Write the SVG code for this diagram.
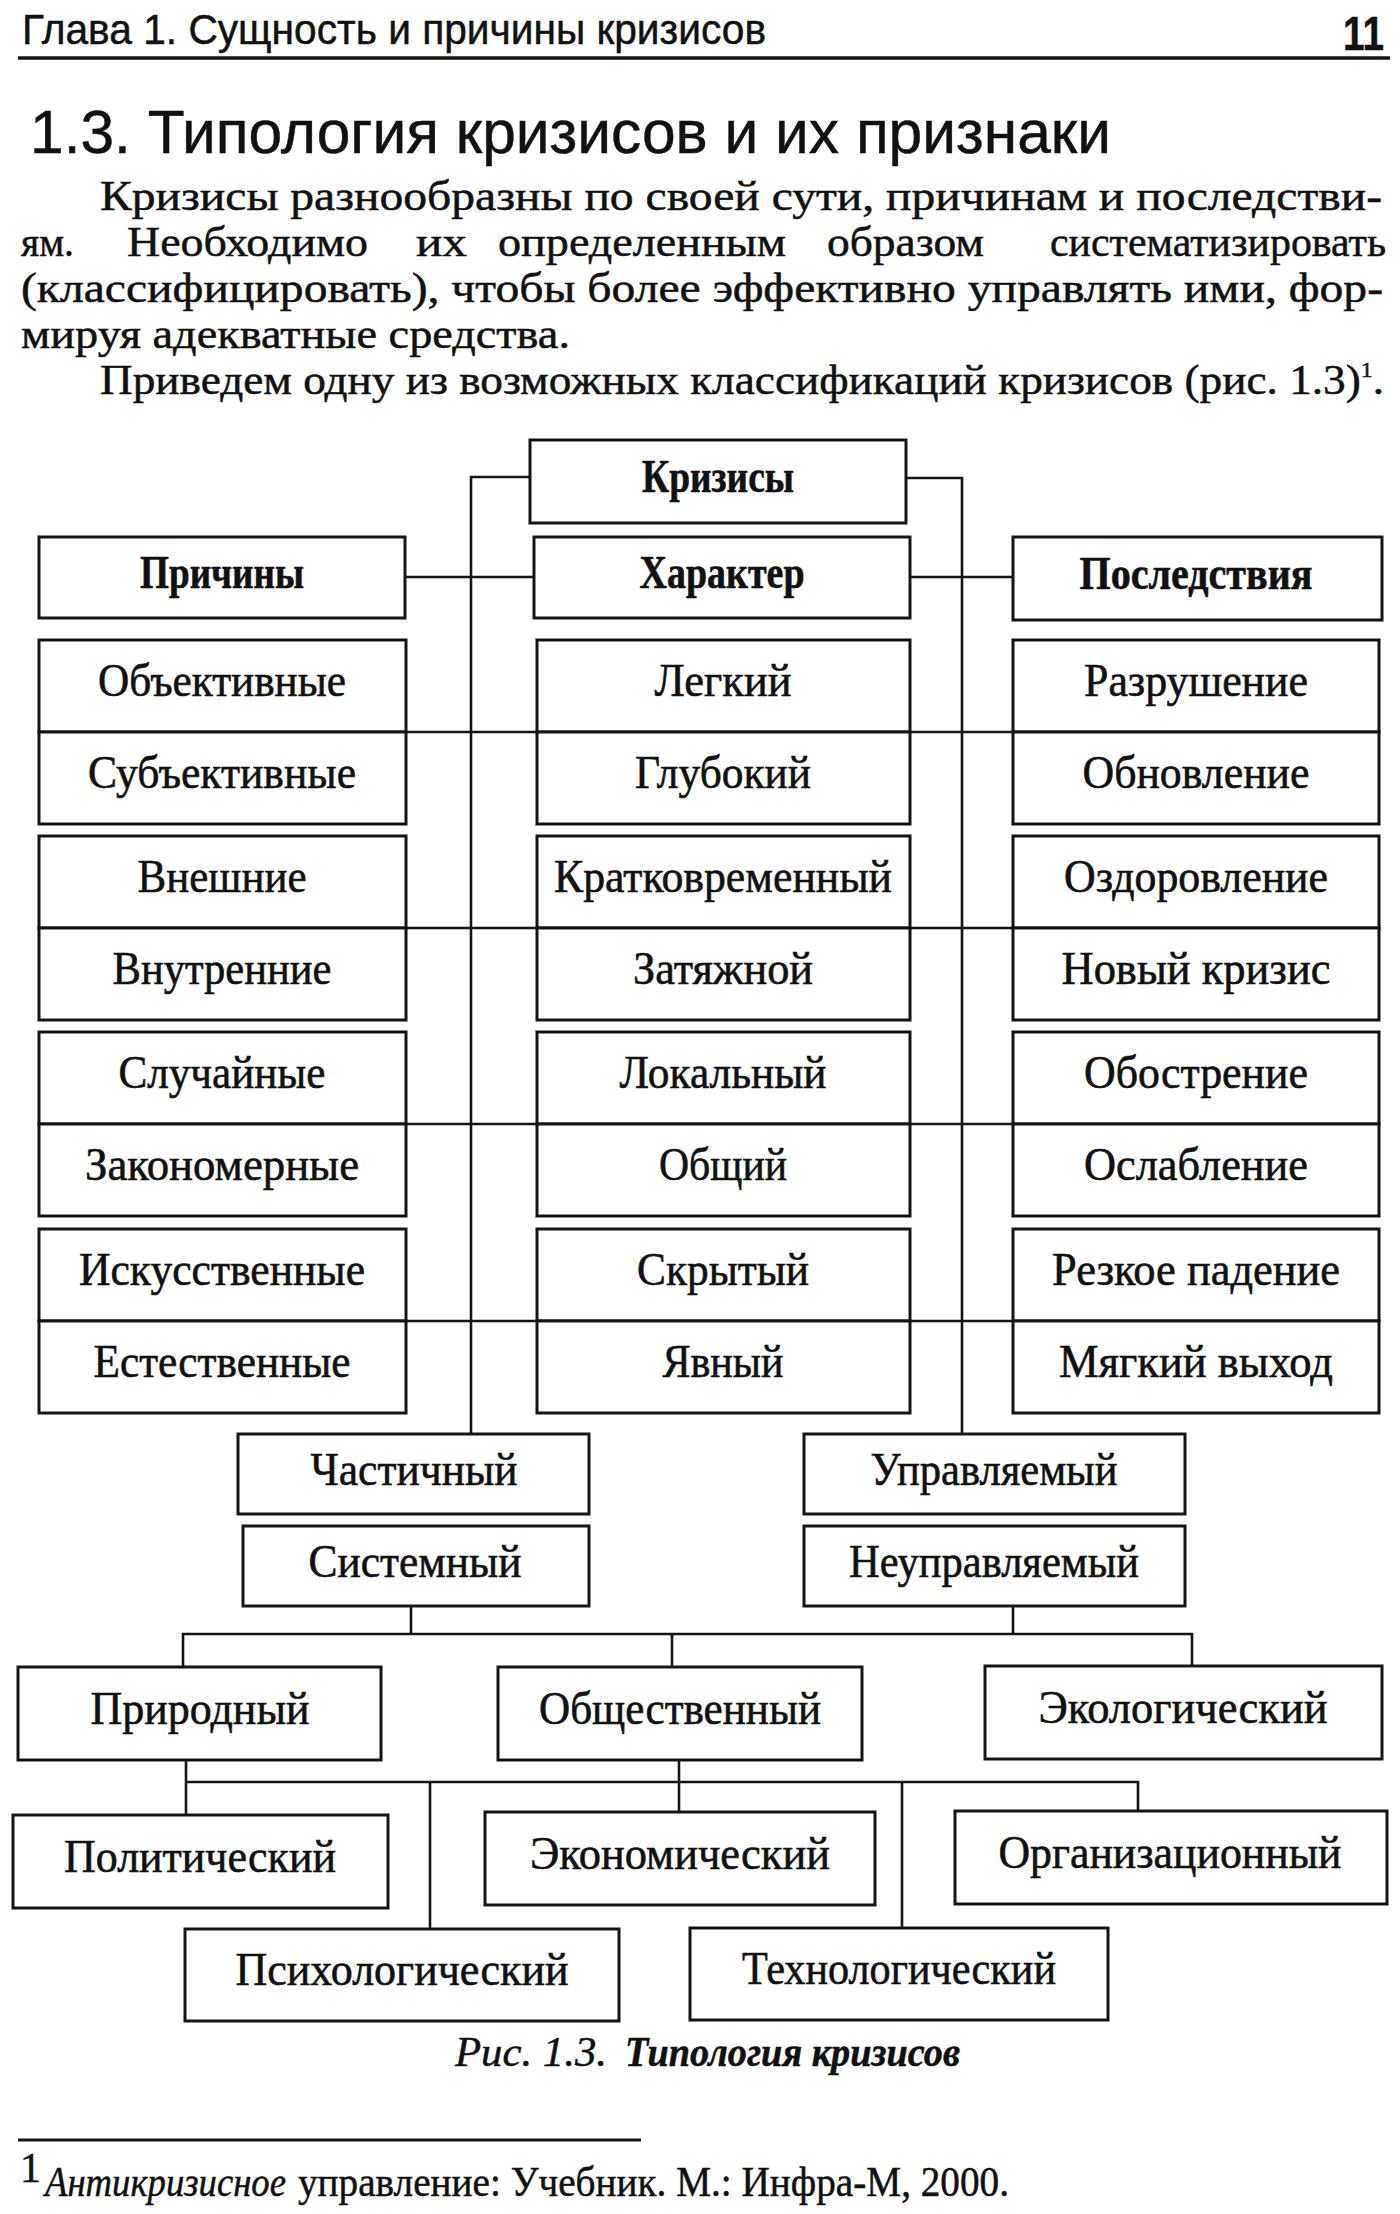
<svg xmlns="http://www.w3.org/2000/svg" width="1400" height="2214" viewBox="0 0 1400 2214">
<style>
.box{fill:#fff;stroke:#141414;stroke-width:3}
.ln{stroke:#141414;stroke-width:2.6;fill:none}
.lb{font-family:"Liberation Serif","Times New Roman",serif;font-size:46px;fill:#111;stroke:#111;stroke-width:0.6;text-anchor:middle}
.bd{font-weight:bold}
.pr{font-family:"Liberation Serif","Times New Roman",serif;font-size:42px;fill:#111;stroke:#111;stroke-width:0.5}
.hd{font-family:"Liberation Sans",Arial,sans-serif;fill:#111;stroke:#111;stroke-width:0.5}
</style>
<rect width="1400" height="2214" fill="#fff"/>
<g id="page-header">
<text class="hd" x="22" y="44" font-size="43" textLength="744" lengthAdjust="spacingAndGlyphs">Глава 1. Сущность и причины кризисов</text>
<text class="hd" x="1343" y="50" font-size="48" font-weight="bold" textLength="41" lengthAdjust="spacingAndGlyphs">11</text>
<line x1="18" y1="58" x2="1390" y2="58" stroke="#141414" stroke-width="3.5"/>
<text class="hd" x="30" y="153" font-size="62" textLength="1081" lengthAdjust="spacingAndGlyphs">1.3. Типология кризисов и их признаки</text>
</g>
<g id="paragraph">
<text class="pr" x="100" y="210" textLength="1282" lengthAdjust="spacingAndGlyphs">Кризисы разнообразны по своей сути, причинам и последстви-</text>
<text class="pr" y="256"><tspan x="21" textLength="53" lengthAdjust="spacingAndGlyphs">ям.</tspan><tspan x="127" textLength="241" lengthAdjust="spacingAndGlyphs">Необходимо</tspan><tspan x="416" textLength="51" lengthAdjust="spacingAndGlyphs">их</tspan><tspan x="498" textLength="288" lengthAdjust="spacingAndGlyphs">определенным</tspan><tspan x="827" textLength="157" lengthAdjust="spacingAndGlyphs">образом</tspan><tspan x="1050" textLength="336" lengthAdjust="spacingAndGlyphs">систематизировать</tspan></text>
<text class="pr" x="21" y="302" textLength="1362" lengthAdjust="spacingAndGlyphs">(классифицировать), чтобы более эффективно управлять ими, фор-</text>
<text class="pr" x="21" y="348" textLength="549" lengthAdjust="spacingAndGlyphs">мируя адекватные средства.</text>
<text class="pr" x="100" y="394" textLength="1284" lengthAdjust="spacingAndGlyphs">Приведем одну из возможных классификаций кризисов (рис. 1.3)<tspan dy="-17" font-size="22">1</tspan><tspan dy="17">.</tspan></text>
</g>
<g id="connectors">
<polyline class="ln" points="530,477 471,477 471,1434"/>
<polyline class="ln" points="906,478 962,478 962,1434"/>
<line class="ln" x1="405" y1="577" x2="534" y2="577"/>
<line class="ln" x1="910" y1="577" x2="1013" y2="577"/>
<line class="ln" x1="406" y1="732" x2="537" y2="732"/><line class="ln" x1="910" y1="732" x2="1013" y2="732"/>
<line class="ln" x1="406" y1="928" x2="537" y2="928"/><line class="ln" x1="910" y1="928" x2="1013" y2="928"/>
<line class="ln" x1="406" y1="1124" x2="537" y2="1124"/><line class="ln" x1="910" y1="1124" x2="1013" y2="1124"/>
<line class="ln" x1="406" y1="1321" x2="537" y2="1321"/><line class="ln" x1="910" y1="1321" x2="1013" y2="1321"/>
<line class="ln" x1="411" y1="1606" x2="411" y2="1634"/>
<line class="ln" x1="1013" y1="1606" x2="1013" y2="1634"/>
<polyline class="ln" points="183,1667 183,1634 1192,1634 1192,1667"/>
<line class="ln" x1="672" y1="1634" x2="672" y2="1667"/>
<line class="ln" x1="186" y1="1760" x2="186" y2="1815"/>
<line class="ln" x1="679" y1="1760" x2="679" y2="1812"/>
<polyline class="ln" points="186,1782 1138,1782 1138,1811"/>
<line class="ln" x1="430" y1="1782" x2="430" y2="1929"/>
<line class="ln" x1="902" y1="1782" x2="902" y2="1928"/>
</g>
<g id="n-krizisy"><rect class="box" x="530" y="440" width="376" height="83"/><text class="lb bd" x="718" y="492" textLength="152" lengthAdjust="spacingAndGlyphs">Кризисы</text></g>
<g id="n-prichiny"><rect class="box" x="39" y="537" width="366" height="81"/><text class="lb bd" x="222" y="588" textLength="164" lengthAdjust="spacingAndGlyphs">Причины</text></g>
<g id="n-harakter"><rect class="box" x="534" y="537" width="376" height="81"/><text class="lb bd" x="722" y="588" textLength="165" lengthAdjust="spacingAndGlyphs">Характер</text></g>
<g id="n-posledstviya"><rect class="box" x="1013" y="537" width="369" height="83"/><text class="lb bd" x="1196" y="589" textLength="233" lengthAdjust="spacingAndGlyphs">Последствия</text></g>
<g id="n-obyektivnye"><rect class="box" x="39" y="640" width="367" height="92"/><text class="lb" x="222" y="696" textLength="248" lengthAdjust="spacingAndGlyphs">Объективные</text></g>
<g id="n-subyektivnye"><rect class="box" x="39" y="732" width="367" height="92"/><text class="lb" x="222" y="788" textLength="268" lengthAdjust="spacingAndGlyphs">Субъективные</text></g>
<g id="n-vneshnie"><rect class="box" x="39" y="836" width="367" height="92"/><text class="lb" x="222" y="892" textLength="169" lengthAdjust="spacingAndGlyphs">Внешние</text></g>
<g id="n-vnutrennie"><rect class="box" x="39" y="928" width="367" height="92"/><text class="lb" x="222" y="984" textLength="219" lengthAdjust="spacingAndGlyphs">Внутренние</text></g>
<g id="n-sluchainye"><rect class="box" x="39" y="1032" width="367" height="92"/><text class="lb" x="222" y="1088" textLength="207" lengthAdjust="spacingAndGlyphs">Случайные</text></g>
<g id="n-zakonomernye"><rect class="box" x="39" y="1124" width="367" height="92"/><text class="lb" x="222" y="1180" textLength="274" lengthAdjust="spacingAndGlyphs">Закономерные</text></g>
<g id="n-iskusstvennye"><rect class="box" x="39" y="1229" width="367" height="92"/><text class="lb" x="222" y="1285" textLength="286" lengthAdjust="spacingAndGlyphs">Искусственные</text></g>
<g id="n-estestvennye"><rect class="box" x="39" y="1321" width="367" height="92"/><text class="lb" x="222" y="1377" textLength="257" lengthAdjust="spacingAndGlyphs">Естественные</text></g>
<g id="n-legkiy"><rect class="box" x="537" y="640" width="373" height="92"/><text class="lb" x="723" y="696" textLength="137" lengthAdjust="spacingAndGlyphs">Легкий</text></g>
<g id="n-glubokiy"><rect class="box" x="537" y="732" width="373" height="92"/><text class="lb" x="723" y="788" textLength="176" lengthAdjust="spacingAndGlyphs">Глубокий</text></g>
<g id="n-kratkovremenny"><rect class="box" x="537" y="836" width="373" height="92"/><text class="lb" x="723" y="892" textLength="338" lengthAdjust="spacingAndGlyphs">Кратковременный</text></g>
<g id="n-zatyazhnoy"><rect class="box" x="537" y="928" width="373" height="92"/><text class="lb" x="723" y="984" textLength="180" lengthAdjust="spacingAndGlyphs">Затяжной</text></g>
<g id="n-lokalny"><rect class="box" x="537" y="1032" width="373" height="92"/><text class="lb" x="723" y="1088" textLength="207" lengthAdjust="spacingAndGlyphs">Локальный</text></g>
<g id="n-obshchiy"><rect class="box" x="537" y="1124" width="373" height="92"/><text class="lb" x="723" y="1180" textLength="128" lengthAdjust="spacingAndGlyphs">Общий</text></g>
<g id="n-skryty"><rect class="box" x="537" y="1229" width="373" height="92"/><text class="lb" x="723" y="1285" textLength="172" lengthAdjust="spacingAndGlyphs">Скрытый</text></g>
<g id="n-yavny"><rect class="box" x="537" y="1321" width="373" height="92"/><text class="lb" x="723" y="1377" textLength="121" lengthAdjust="spacingAndGlyphs">Явный</text></g>
<g id="n-razrushenie"><rect class="box" x="1013" y="640" width="366" height="92"/><text class="lb" x="1196" y="696" textLength="224" lengthAdjust="spacingAndGlyphs">Разрушение</text></g>
<g id="n-obnovlenie"><rect class="box" x="1013" y="732" width="366" height="92"/><text class="lb" x="1196" y="788" textLength="227" lengthAdjust="spacingAndGlyphs">Обновление</text></g>
<g id="n-ozdorovlenie"><rect class="box" x="1013" y="836" width="366" height="92"/><text class="lb" x="1196" y="892" textLength="264" lengthAdjust="spacingAndGlyphs">Оздоровление</text></g>
<g id="n-novy-krizis"><rect class="box" x="1013" y="928" width="366" height="92"/><text class="lb" x="1196" y="984" textLength="269" lengthAdjust="spacingAndGlyphs">Новый кризис</text></g>
<g id="n-obostrenie"><rect class="box" x="1013" y="1032" width="366" height="92"/><text class="lb" x="1196" y="1088" textLength="224" lengthAdjust="spacingAndGlyphs">Обострение</text></g>
<g id="n-oslablenie"><rect class="box" x="1013" y="1124" width="366" height="92"/><text class="lb" x="1196" y="1180" textLength="224" lengthAdjust="spacingAndGlyphs">Ослабление</text></g>
<g id="n-rezkoe-padenie"><rect class="box" x="1013" y="1229" width="366" height="92"/><text class="lb" x="1196" y="1285" textLength="288" lengthAdjust="spacingAndGlyphs">Резкое падение</text></g>
<g id="n-myagkiy-vyhod"><rect class="box" x="1013" y="1321" width="366" height="92"/><text class="lb" x="1196" y="1377" textLength="274" lengthAdjust="spacingAndGlyphs">Мягкий выход</text></g>
<g id="n-chastichny"><rect class="box" x="238" y="1434" width="351" height="80"/><text class="lb" x="414" y="1485" textLength="207" lengthAdjust="spacingAndGlyphs">Частичный</text></g>
<g id="n-sistemny"><rect class="box" x="243" y="1526" width="346" height="80"/><text class="lb" x="415" y="1577" textLength="213" lengthAdjust="spacingAndGlyphs">Системный</text></g>
<g id="n-upravlyaemy"><rect class="box" x="804" y="1434" width="381" height="80"/><text class="lb" x="994" y="1485" textLength="247" lengthAdjust="spacingAndGlyphs">Управляемый</text></g>
<g id="n-neupravlyaemy"><rect class="box" x="804" y="1526" width="381" height="80"/><text class="lb" x="994" y="1577" textLength="290" lengthAdjust="spacingAndGlyphs">Неуправляемый</text></g>
<g id="n-prirodny"><rect class="box" x="18" y="1667" width="363" height="93"/><text class="lb" x="200" y="1724" textLength="219" lengthAdjust="spacingAndGlyphs">Природный</text></g>
<g id="n-obshchestvenny"><rect class="box" x="498" y="1667" width="364" height="93"/><text class="lb" x="680" y="1724" textLength="282" lengthAdjust="spacingAndGlyphs">Общественный</text></g>
<g id="n-ekologicheskiy"><rect class="box" x="985" y="1666" width="397" height="93"/><text class="lb" x="1183" y="1723" textLength="289" lengthAdjust="spacingAndGlyphs">Экологический</text></g>
<g id="n-politicheskiy"><rect class="box" x="13" y="1815" width="375" height="93"/><text class="lb" x="200" y="1872" textLength="272" lengthAdjust="spacingAndGlyphs">Политический</text></g>
<g id="n-ekonomicheskiy"><rect class="box" x="485" y="1812" width="390" height="93"/><text class="lb" x="680" y="1869" textLength="300" lengthAdjust="spacingAndGlyphs">Экономический</text></g>
<g id="n-organizatsionny"><rect class="box" x="955" y="1811" width="432" height="93"/><text class="lb" x="1170" y="1868" textLength="343" lengthAdjust="spacingAndGlyphs">Организационный</text></g>
<g id="n-psihologicheskiy"><rect class="box" x="185" y="1929" width="434" height="92"/><text class="lb" x="402" y="1985" textLength="333" lengthAdjust="spacingAndGlyphs">Психологический</text></g>
<g id="n-tehnologicheskiy"><rect class="box" x="690" y="1928" width="418" height="92"/><text class="lb" x="899" y="1984" textLength="314" lengthAdjust="spacingAndGlyphs">Технологический</text></g>
<g id="caption">
<text class="pr" x="455" y="2066" font-size="38" font-style="italic" textLength="152" lengthAdjust="spacingAndGlyphs">Рис. 1.3.</text>
<text class="pr" x="625" y="2066" font-size="38" font-style="italic" font-weight="bold" textLength="335" lengthAdjust="spacingAndGlyphs">Типология кризисов</text>
</g>
<g id="footnote">
<line x1="18" y1="2140" x2="641" y2="2140" stroke="#141414" stroke-width="3"/>
<text class="pr" x="20" y="2182" font-size="20">1</text>
<text class="pr" x="45" y="2196" font-size="35" font-style="italic" textLength="241" lengthAdjust="spacingAndGlyphs">Антикризисное</text>
<text class="pr" x="298" y="2196" font-size="35" textLength="711" lengthAdjust="spacingAndGlyphs">управление: Учебник. М.: Инфра-М, 2000.</text>
</g>
</svg>
